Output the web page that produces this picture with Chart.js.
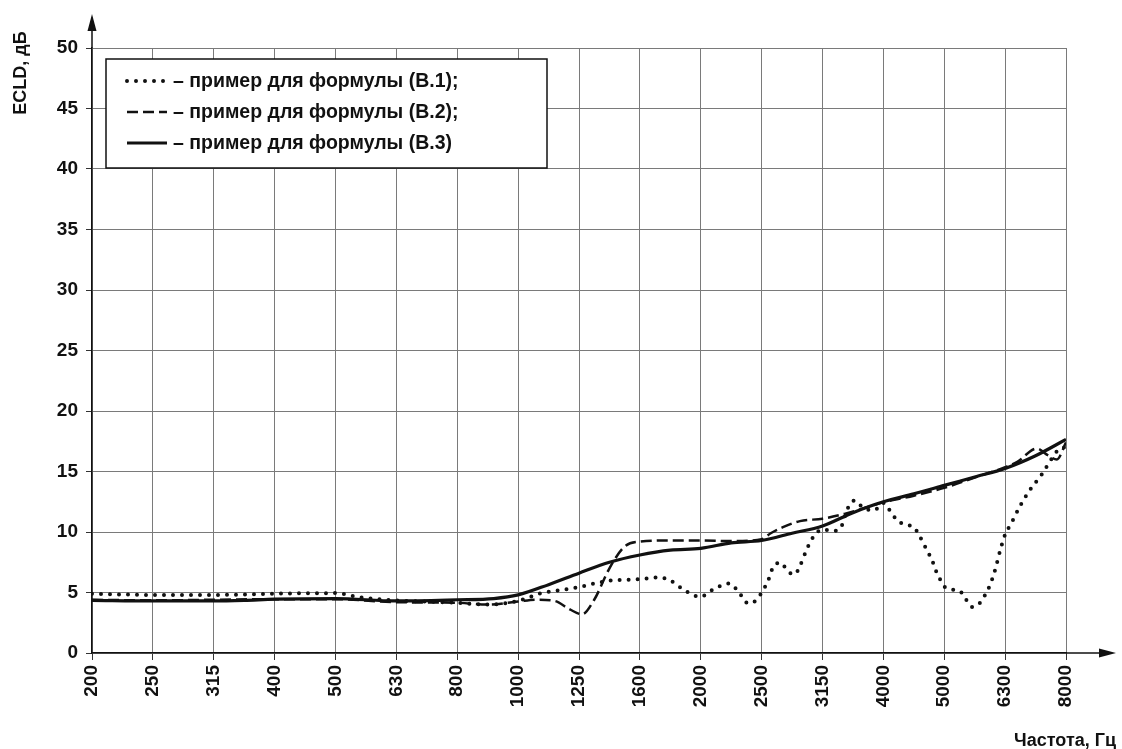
<!DOCTYPE html>
<html>
<head>
<meta charset="utf-8">
<script src="https://cdn.jsdelivr.net/npm/chart.js@4.4.1/dist/chart.umd.min.js"></script>
<style>
html,body{margin:0;padding:0;background:#fff;}
#wrap{width:1122px;height:749px;}
</style>
</head>
<body>
<div id="wrap"><canvas id="c" width="1122" height="749"></canvas></div>
<script>
// Third-octave band labels (x axis categories, evenly spaced)
const categories = ['200','250','315','400','500','630','800','1000','1250','1600','2000','2500','3150','4000','5000','6300','8000'];
const yTicks = [0,5,10,15,20,25,30,35,40,45,50];

const seriesLabels = [
  '– пример для формулы (В.1);',
  '– пример для формулы (В.2);',
  '– пример для формулы (В.3)'
];

// Series B.1 (dotted): position along category index, value in dB
const b1Pos = [0,1,2,3,4,4.4,5,6,6.5,7,7.35,7.7,8,8.3,8.55,9,9.3,9.5,9.7,9.9,10,10.15,10.3,10.46,10.6,10.78,10.92,11,11.1,11.2,11.32,11.42,11.54,11.63,11.74,11.85,12,12.18,12.31,12.4,12.53,12.67,12.85,13,13.11,13.22,13.36,13.5,13.58,13.66,13.73,13.8,13.85,13.92,14,14.13,14.26,14.36,14.46,14.58,14.66,14.75,14.84,14.92,15,15.1,15.24,15.41,15.6,15.77,15.9,16];
const b1Val = [4.9,4.8,4.8,4.9,4.95,4.6,4.35,4.15,4.0,4.3,4.9,5.2,5.45,5.8,6.0,6.1,6.25,6.0,5.3,4.75,4.65,5.1,5.5,5.75,5.2,4.1,4.4,5.0,5.9,7.2,7.45,6.8,6.5,7.2,8.55,9.6,10.2,10.1,10.45,11.8,12.6,12.0,11.8,12.4,11.75,11.0,10.6,10.4,9.8,9.05,8.35,7.7,6.95,6.2,5.5,5.25,5.1,4.4,3.8,4.1,4.7,5.6,6.95,8.5,9.8,10.7,12.1,13.5,14.75,16.1,16.9,17.0];

// Series B.2 (dashed)
const b2Pos = [0,1,2,3,4,5,6,6.5,7,7.3,7.6,7.85,8.05,8.25,8.5,8.75,9,9.5,10,10.5,11,11.15,11.35,11.63,12,12.36,12.7,13,13.5,14,14.5,15,15.2,15.52,15.7,15.85,16];
const b2Val = [4.4,4.35,4.4,4.45,4.45,4.2,4.15,4.0,4.25,4.4,4.3,3.6,3.2,4.4,7.0,8.8,9.2,9.3,9.3,9.25,9.4,9.9,10.4,10.9,11.1,11.5,12.0,12.45,13.0,13.65,14.5,15.35,15.8,16.9,16.35,16.0,17.4];

// Series B.3 (solid)
const b3Pos = [0,1,2,2.5,3,4,5,6,6.6,7,7.5,8,8.5,9,9.5,10,10.5,11,11.5,12,12.5,13,13.5,14,14.5,15,15.5,16];
const b3Val = [4.35,4.3,4.3,4.35,4.45,4.5,4.3,4.4,4.5,4.8,5.65,6.6,7.5,8.1,8.5,8.65,9.1,9.3,9.9,10.5,11.6,12.5,13.15,13.85,14.55,15.25,16.3,17.65];

const toPts = (p, v) => p.map((x, i) => ({x: x, y: v[i]}));

const FONT = '"Liberation Sans", Arial, sans-serif';
const INK = '#111';

const decor = {
  id: 'decor',
  afterDraw(chart) {
    const ctx = chart.ctx;
    const a = chart.chartArea;
    ctx.save();
    ctx.strokeStyle = INK;
    ctx.fillStyle = INK;
    ctx.lineWidth = 1.5;
    // y-axis arrow
    ctx.beginPath();
    ctx.moveTo(a.left, a.top);
    ctx.lineTo(a.left, 28);
    ctx.stroke();
    ctx.beginPath();
    ctx.moveTo(a.left, 14);
    ctx.lineTo(a.left - 4.5, 31);
    ctx.lineTo(a.left + 4.5, 31);
    ctx.closePath();
    ctx.fill();
    // x-axis arrow
    ctx.beginPath();
    ctx.moveTo(a.right, a.bottom);
    ctx.lineTo(1102, a.bottom);
    ctx.stroke();
    ctx.beginPath();
    ctx.moveTo(1116, a.bottom);
    ctx.lineTo(1099, a.bottom - 4.5);
    ctx.lineTo(1099, a.bottom + 4.5);
    ctx.closePath();
    ctx.fill();

    // axis titles
    ctx.font = 'bold 18px ' + FONT;
    ctx.textBaseline = 'middle';
    ctx.save();
    ctx.translate(21, 73);
    ctx.rotate(-Math.PI / 2);
    ctx.textAlign = 'center';
    ctx.fillText('ECLD, дБ', 0, 0);
    ctx.restore();
    ctx.textAlign = 'right';
    ctx.fillText('Частота, Гц', 1116, 741);

    // legend box
    const bx = 106, by = 59, bw = 441, bh = 109;
    ctx.fillStyle = '#fff';
    ctx.fillRect(bx, by, bw, bh);
    ctx.strokeStyle = INK;
    ctx.lineWidth = 1.5;
    ctx.strokeRect(bx, by, bw, bh);
    const rows = [81, 112, 143];
    chart.data.datasets.forEach((ds, i) => {
      const y = rows[i];
      ctx.save();
      ctx.strokeStyle = ds.borderColor;
      ctx.lineWidth = ds.borderWidth;
      ctx.lineCap = ds.borderCapStyle || 'butt';
      ctx.setLineDash(ds.borderDash || []);
      ctx.beginPath();
      ctx.moveTo(127, y);
      ctx.lineTo(167, y);
      ctx.stroke();
      ctx.restore();
      ctx.fillStyle = INK;
      ctx.font = 'bold 19.5px ' + FONT;
      ctx.textAlign = 'left';
      ctx.textBaseline = 'middle';
      ctx.fillText(ds.label, 173, y + 1);
    });
    ctx.restore();
  }
};

new Chart(document.getElementById('c'), {
  type: 'line',
  data: {
    datasets: [
      {
        label: seriesLabels[0],
        data: toPts(b1Pos, b1Val),
        borderColor: INK,
        borderWidth: 4,
        borderDash: [0, 9],
        borderCapStyle: 'round',
        pointRadius: 0,
        cubicInterpolationMode: 'monotone',
        fill: false
      },
      {
        label: seriesLabels[1],
        data: toPts(b2Pos, b2Val),
        borderColor: INK,
        borderWidth: 2.5,
        borderDash: [11, 5],
        borderCapStyle: 'butt',
        pointRadius: 0,
        cubicInterpolationMode: 'monotone',
        fill: false
      },
      {
        label: seriesLabels[2],
        data: toPts(b3Pos, b3Val),
        borderColor: INK,
        borderWidth: 3.2,
        borderCapStyle: 'butt',
        pointRadius: 0,
        cubicInterpolationMode: 'monotone',
        fill: false
      }
    ]
  },
  options: {
    responsive: false,
    animation: false,
    devicePixelRatio: 1,
    layout: { padding: { top: 48, right: 56, left: 0, bottom: 0 } },
    plugins: { legend: { display: false }, tooltip: { enabled: false } },
    scales: {
      x: {
        type: 'linear',
        min: 0,
        max: categories.length - 1,
        afterFit(s) { s.height = 96; },
        afterBuildTicks(s) { s.ticks = categories.map((c, i) => ({ value: i })); },
        ticks: {
          autoSkip: false,
          minRotation: 90,
          maxRotation: 90,
          padding: 5,
          color: INK,
          font: { family: FONT, size: 19, weight: 'bold' },
          callback: (v) => categories[v]
        },
        grid: { color: '#7a7a7a', lineWidth: 1, tickLength: 7, tickColor: '#333' },
        border: { color: INK, width: 1.5 }
      },
      y: {
        type: 'linear',
        min: 0,
        max: 50,
        afterFit(s) { s.width = 92; },
        afterBuildTicks(s) { s.ticks = yTicks.map(v => ({ value: v })); },
        ticks: {
          padding: 8,
          color: INK,
          font: { family: FONT, size: 19, weight: 'bold' }
        },
        grid: { color: '#7a7a7a', lineWidth: 1, tickLength: 6, tickColor: '#333' },
        border: { color: INK, width: 1.5 }
      }
    }
  },
  plugins: [decor]
});
</script>
</body>
</html>
